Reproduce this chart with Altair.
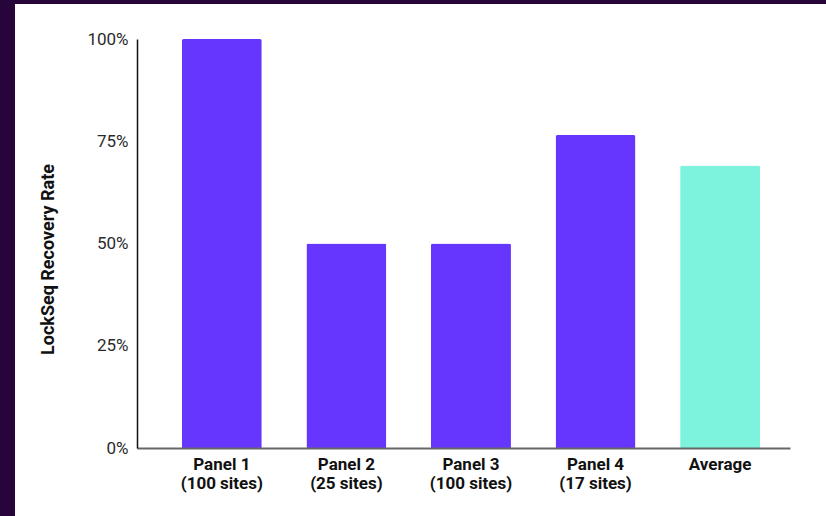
import altair as alt
import pandas as pd

# Recovery rate per panel, plus the overall average
categories = ["Panel 1|(100 sites)", "Panel 2|(25 sites)", "Panel 3|(100 sites)",
              "Panel 4|(17 sites)", "Average"]
rates = [1.00, 0.50, 0.50, 0.765, 0.691]
kinds = ["panel", "panel", "panel", "panel", "average"]
y_ticks = [0, 0.25, 0.5, 0.75, 1.0]

df = pd.DataFrame({"category": categories, "rate": rates, "kind": kinds})

PLOT_W, PLOT_H = 653, 409
PAD = {"left": 137, "top": 39, "right": 36, "bottom": 68}

# White card sitting on the dark page background
card = alt.Chart(pd.DataFrame({"k": [0]})).mark_rect(color="white").encode(
    x=alt.value(15 - PAD["left"]),
    x2=alt.value(826 - PAD["left"]),
    y=alt.value(4 - PAD["top"]),
    y2=alt.value(516 - PAD["top"]),
)

bars = alt.Chart(df).mark_bar(cornerRadiusTopLeft=2, cornerRadiusTopRight=2).encode(
    x=alt.X(
        "category:N",
        sort=categories,
        scale=alt.Scale(paddingInner=0.358, paddingOuter=0.3, align=0.6),
        axis=alt.Axis(
            title=None,
            labelAngle=0,
            labelExpr="split(datum.label, '|')",
            labelFont="Roboto",
            labelFontSize=17,
            labelFontWeight="bold",
            labelColor="#111111",
            labelLineHeight=19,
            labelPadding=8,
            ticks=False,
            tickSize=0,
            domainColor="#666666",
            domainWidth=2,
            zindex=1,
        ),
    ),
    y=alt.Y(
        "rate:Q",
        scale=alt.Scale(domain=[0, 1], nice=False),
        axis=alt.Axis(
            title="LockSeq Recovery Rate",
            values=y_ticks,
            format=".0%",
            grid=False,
            ticks=False,
            tickSize=0,
            labelFont="Roboto",
            labelFontSize=17,
            labelColor="#2a2a2a",
            labelPadding=9,
            domainColor="#111111",
            domainWidth=1.5,
            titleFont="Roboto",
            titleFontSize=18,
            titleFontWeight="bold",
            titleColor="#111111",
            titleAngle=270,
            titleAlign="center",
            titleBaseline="middle",
            titleX=-89,
            titleY=220,
            zindex=1,
        ),
    ),
    color=alt.Color(
        "kind:N",
        scale=alt.Scale(domain=["panel", "average"], range=["#6636ff", "#7df2dd"]),
        legend=None,
    ),
)

chart = alt.layer(card, bars).properties(
    width=PLOT_W,
    height=PLOT_H,
    background="#27053b",
    padding=PAD,
    autosize=alt.AutoSizeParams(type="none"),
).configure_view(stroke=None)

chart.save("out.html", embed_options={"renderer": "svg", "actions": False})
